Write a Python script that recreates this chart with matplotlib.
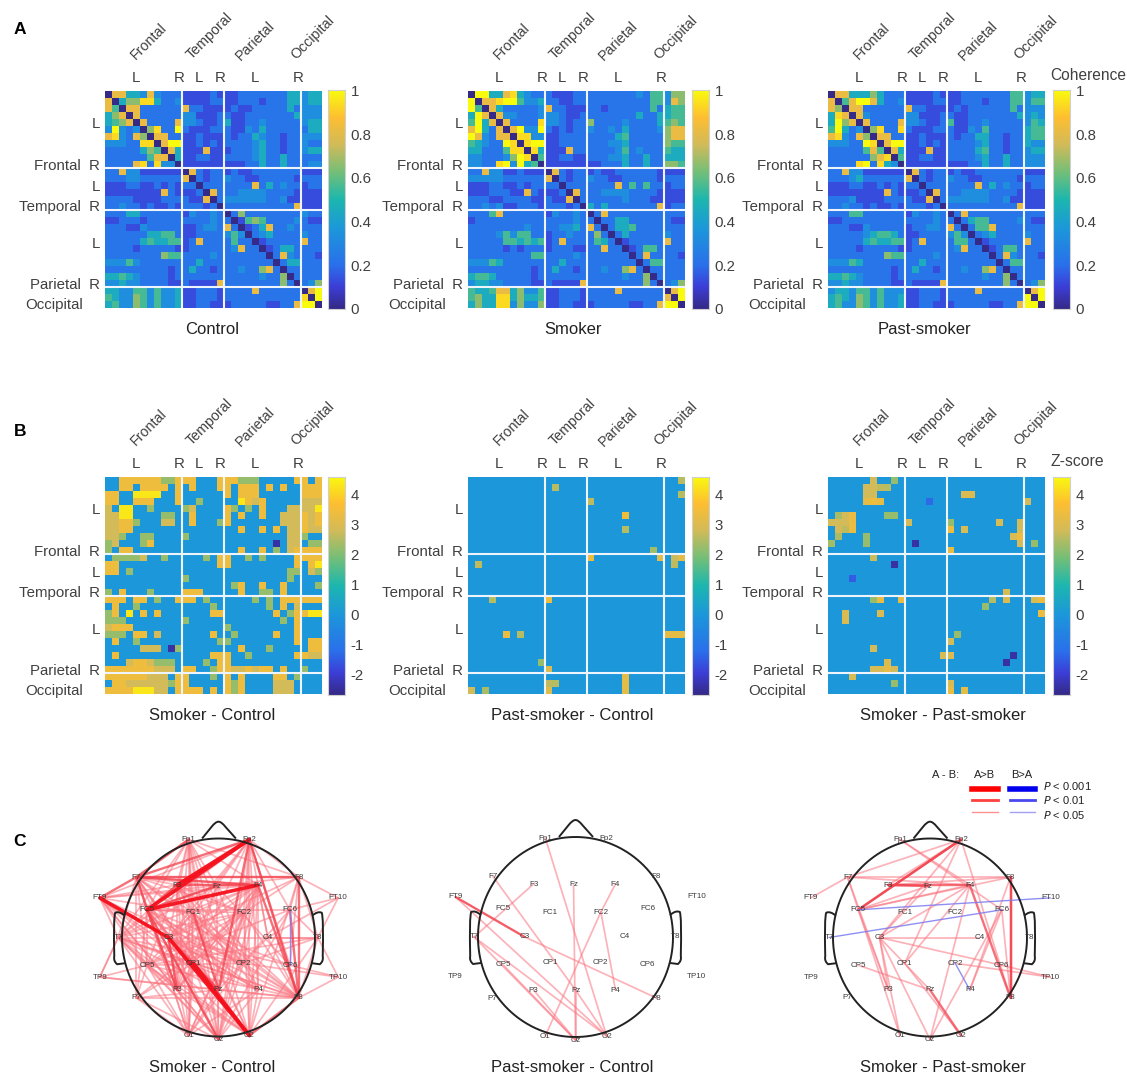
import numpy as np
import matplotlib
matplotlib.use("Agg")
from matplotlib import pyplot as plt
from matplotlib.colors import LinearSegmentedColormap
from matplotlib.path import Path
from matplotlib.patches import PathPatch

plt.rcParams['font.family'] = ['Liberation Sans', 'DejaVu Sans']

W, H = 1127, 1078
GREY = '#404040'

# coherence level of each cell (frontal | temporal | parietal | occipital), decoded by coh_levels
coh_levels = {'0': 0.0, '1': 0.08, '2': 0.13, '3': 0.22, '4': 0.33, '5': 0.45, '6': 0.56, '7': 0.66,
              '8': 0.82, '9': 0.93, 'a': 1.0}
coh_control = [
    "08855484333 222232 22333333355 455",
    "80577995334 222233 22333233355 455",
    "86088333333 833222 23223333353 444",
    "57808333333 442223 32233333335 444",
    "56780833338 443223 52233433333 455",
    "4a43407933a 322233 32243533333 355",
    "89438708833 223222 32335433233 444",
    "444339908aa 223232 33334533233 433",
    "33333576085 222822 23334533233 455",
    "33333368805 223322 33334533533 333",
    "33338939440 222222 22233533533 344",
    "33844222222 083233 23223333333 222",
    "33344333333 803233 43322333332 333",
    "22233223232 330333 33338353433 233",
    "22222222832 223083 33444433332 222",
    "33332222333 322803 44444433422 222",
    "33433232232 333230 33333333338 222",
    "33355333333 243343 03733333333 433",
    "22333233333 333343 30267633334 322",
    "33322433333 223443 83023583343 333",
    "33333355663 223333 46403453333 433",
    "33333565566 238333 36330233333 833",
    "33332333332 233333 34833023553 333",
    "33333333766 333343 33333303843 332",
    "44464333333 335333 33333330355 333",
    "33333333323 353323 33433783033 333",
    "55654333323 333333 33333433703 333",
    "44544333322 322228 33333333730 347",
    "55446646445 223332 33338333333 08a",
    "65447646445 223332 33333333333 90a",
    "56447646445 223322 23333322338 aa0",
]
coh_smoker = [
    "0aa55895433 322233 33333334366 477",
    "a0889aa6445 332233 33333333366 487",
    "a6085333334 833222 33233333363 566",
    "5a808443334 443223 33333335335 566",
    "6a580833339 443233 73333433335 676",
    "8a53808a44a 323233 43343533334 788",
    "a8438809944 223333 33335633333 788",
    "65433a909aa 223333 33344533333 766",
    "55333699095 222833 33334634333 655",
    "4433347a906 223322 33344533533 555",
    "44339a4a560 222222 22333533533 776",
    "33844223222 083233 23223333332 222",
    "44444333333 803233 43322333332 333",
    "22233223233 330333 33338363633 233",
    "22233322832 223083 33444433332 222",
    "33322333322 322803 33333433322 222",
    "33434223332 333230 53533333338 233",
    "33368333333 243343 03833333333 333",
    "23333333333 333343 30335533333 322",
    "33333333433 334453 83035563333 333",
    "33334646633 233433 37303533333 433",
    "33333665656 238333 36530233333 833",
    "33333232333 233322 33833023663 333",
    "33333333366 333343 33333303833 332",
    "44465333333 335333 33333330366 333",
    "33333333323 353323 33433783033 333",
    "56653333323 333333 33333433703 333",
    "45544333322 322228 33333333730 347",
    "65568857446 223332 33338333333 08a",
    "67559957556 223332 33333333333 80a",
    "57559947447 223322 23333322338 aa0",
]
coh_past = [
    "08855575333 222232 22333333366 455",
    "8068aa85334 222233 22333233366 466",
    "87088333333 833222 23233333363 444",
    "59808433333 442223 32233333335 454",
    "5a780833338 443223 62233433333 465",
    "6a534079339 322233 32243633333 566",
    "89438708833 223222 32335533233 566",
    "44433a908aa 223232 33334533233 544",
    "33333686085 222822 33335633233 455",
    "33333378906 223322 33334533533 444",
    "33339a39540 222222 22233533533 444",
    "33844222222 083233 23223333333 222",
    "33345333333 803233 43322333332 333",
    "22233223232 330333 33338353433 233",
    "22222222832 223083 33444433332 222",
    "33342222333 322803 44444433422 222",
    "33433232232 333230 33333333338 222",
    "33366333333 243343 03833333333 333",
    "22333333333 333343 30356633334 322",
    "33322433333 233443 83036683333 333",
    "33333456653 223333 46403453333 433",
    "33333565566 238333 36630233333 833",
    "33332333332 233333 34833023663 333",
    "33333333766 333343 33333303843 332",
    "44465333333 335333 33333330366 333",
    "33333333323 353323 33433783033 333",
    "55654333323 333333 33333433703 333",
    "44544333322 322228 33333333730 347",
    "45546646444 223332 33338333333 08a",
    "56547646445 223332 33333333333 a0a",
    "56447646445 223322 23333322338 aa0",
]

# z-score codes for the cells
z_codes = {'.': 0.0, '2': 2.2, 'g': 2.8, '3': 3.4, '4': 4.3, 'n': -2.4, 'm': -1.3}

z_smoker_control = [
    "..333333223 33...3 33222.....3 3.3",
    "..33.3333.3 .3...3 3.333.3.3.. 333",
    "33..4444..3 ...... 3.333...... 333",
    "33..333...3 ..2... ..43g3..... ggg",
    "g.44..2.... 2g.... 32.2.3...gg gg4",
    "gg44....22. .3.... 3.3..3..ggg 3g3",
    "gg332...gg. .3...2 3.......ggg 3g3",
    "gg33....... ...... ..3..3.3.gg 3gg",
    "gg2..22.... 2..... .........gg 2..",
    "2g...23.... ...... .......n.gg .22",
    "2.33....... ...... ..3..3.2.g3 333",
    ".2222g..2.. ...2.3 3..2.2....3 333",
    "33......... .....3 3.........3 .34",
    "33.2....... ...... .........22 .g2",
    "........... 2..... .........2. ...",
    "........... ...... .23..3..3.. ..2",
    "2.3...2.... 333... ..3..22.3.. ...",
    "333.33.2..3 33.2.. ....2.2.333 333",
    ".3..2...... ....2. ......2.3.g ...",
    "23.4.3.3... ....33 .......3.23 344",
    "222........ 2..... ........2.3 ...",
    "g333....... ...... 2.........3 ...",
    "222.33.g... ....3. .2.....3..3 ...",
    ".3..2...... .....2 2.........3 .33",
    ".....ggg.n2 ...... ..3...2.... .33",
    ".3......... ....33 3..2......3 3gg",
    "...g33g222. ...2.3 3.......... ...",
    "3333333ggg. 33..23 3gg3g33.3.. 2..",
    "333333ggg.3 3...2. 3.3....33.2 ...",
    ".33gggggg23 3..... 323....ggg. ...",
    "3333444gg.3 333.3. 323....ggg. ...",
]

# only the few non zero cells: (row, col, z)
z_past_control = [
    (0, 30, 2.5), (1, 12, 2.5), (2, 30, 2.5), (3, 17, 2.6), (5, 22, 3.4), (7, 22, 2.5),
    (10, 26, 2.3), (11, 17, 3.4), (11, 27, 3.1), (11, 29, 2.7), (11, 30, 3.1), (12, 29, 2.6),
    (12, 1, 2.6), (17, 3, 2.5), (17, 11, 3.4), (22, 5, 3.3), (22, 7, 2.5), (22, 28, 3.2),
    (22, 29, 3.2), (22, 30, 3.2), (26, 10, 2.2), (27, 11, 3.0), (28, 22, 3.2), (29, 22, 3.2),
    (30, 22, 3.2), (29, 11, 2.6), (29, 12, 2.5), (30, 11, 3.0), (30, 0, 2.8), (30, 2, 2.4),
]
z_smoker_past = [
    (0, 6, 2.8), (0, 9, 2.2), (1, 5, 2.8), (1, 6, 2.8), (1, 7, 2.6), (1, 8, 2.5), (2, 5, 2.8),
    (2, 6, 2.8), (2, 19, 3.0), (2, 20, 3.0), (3, 5, 3.2), (3, 6, 3.4), (3, 7, 3.2), (3, 14, -1.3),
    (3, 28, 2.8), (5, 1, 2.4), (5, 2, 2.8), (5, 3, 3.3), (5, 8, 2.2), (5, 9, 2.2), (6, 0, 2.8),
    (6, 1, 2.8), (6, 2, 2.8), (6, 3, 3.3), (6, 11, 2.8), (6, 17, 2.2), (6, 24, 2.9), (6, 27, 2.8),
    (7, 1, 2.8), (7, 2, 2.6), (7, 3, 3.3), (7, 17, 3.4), (7, 19, 2.9), (7, 27, 2.8), (8, 1, 2.4),
    (8, 5, 2.2), (8, 26, 2.9), (8, 27, 3.4), (9, 0, 2.3), (9, 5, 2.2), (9, 12, -2.4), (9, 27, 2.8),
    (9, 29, 2.2), (10, 17, 3.3), (11, 6, 2.7), (12, 9, -2.4), (14, 3, -1.5), (16, 25, 2.9),
    (17, 6, 2.2), (17, 7, 3.3), (17, 10, 3.3), (17, 23, 2.5), (17, 25, 3.0), (17, 29, 3.0),
    (17, 30, 3.3), (18, 22, 2.2), (19, 2, 3.0), (19, 7, 3.0), (19, 30, 3.3), (20, 2, 3.0),
    (22, 18, 2.2), (23, 17, 2.8), (24, 6, 2.8), (25, 16, 2.9), (25, 17, 3.0), (25, 26, -2.4),
    (26, 25, -2.4), (26, 8, 3.0), (27, 6, 2.9), (27, 7, 2.9), (27, 8, 3.2), (27, 9, 2.8),
    (28, 3, 2.9), (29, 9, 2.2), (29, 17, 3.0), (30, 17, 3.3), (30, 19, 3.2),
]

# electrode layout, unit circle = scalp
electrodes = {
    'Fp1': (-.31, .99), 'Fp2': (.32, .99), 'F7': (-.85, .61), 'F3': (-.43, .53), 'Fz': (-.02, .52),
    'F4': (.41, .53), 'F8': (.83, .61), 'FT9': (-1.23, .40), 'FC5': (-.74, .28), 'FC1': (-.26, .25),
    'FC2': (.26, .25), 'FC6': (.74, .28), 'FT10': (1.24, .40), 'T7': (-1.04, 0), 'C3': (-.52, 0),
    'C4': (.51, 0), 'T8': (1.03, 0), 'TP9': (-1.23, -.40), 'CP5': (-.74, -.28), 'CP1': (-.26, -.26),
    'CP2': (.26, -.26), 'CP6': (.74, -.28), 'TP10': (1.24, -.40), 'P7': (-.85, -.61), 'P3': (-.43, -.53),
    'Pz': (0, -.53), 'P4': (.41, -.53), 'P8': (.83, -.61), 'O1': (-.31, -.99), 'Oz': (0, -1.03),
    'O2': (.32, -.99),
}

# connections per head: hub -> partners
c1_light = {
    'Fp1': "F7 F3 Fz F4 F8 FC5 FC1 C3 CP1 T7 P3 Pz O1 Oz O2 CP2",
    'Fp2': "F3 Fz F8 FC6 FC2 FC1 C3 C4 CP1 CP2 CP6 P4 P8 O2 Oz T7 FT9",
    'F7': "F3 Fz F4 F8 FC1 FC2 C3 T7 CP5 CP1 CP2 P7 P3 Pz O1 O2 P8",
    'F3': "FC1 FC2 CP1 CP2 T7 P3 P8 O1 O2 CP5",
    'Fz': "FC5 F4 CP1 P3 P4 CP6 Oz T7",
    'F4': "FC1 FC2 C3 C4 CP1 CP2 CP5 P3 P4 Pz O1 Oz O2 T7 FT9",
    'F8': "FC2 FC6 C3 T8 CP6 O2",
    'FT9': "F3 FC1 T7 C3 CP5 CP1 CP2 P3 Pz P4 Oz O2 F8",
    'FT10': "FC6 T8 F8 C4",
    'FC5': "FC1 FC2 FC6 C3 CP1 CP2 CP5 CP6 P3 P7 Pz P4 O1 Oz O2 P8",
    'FC1': "C3 CP2 CP5 P3 P4 P8 O1 Oz O2",
    'FC2': "T7 C3 CP1 CP5 P3 Pz P7 P8 O1 Oz O2",
    'FC6': "T8 CP5 Pz Oz",
    'T7': "C3 CP1 CP2 CP5 P3 Pz P4 P8 O1 Oz O2 TP9",
    'C3': "CP2 CP6 P3 Pz P8 P4 O1 Oz O2 T8",
    'C4': "P8 CP2 T8",
    'T8': "CP2 CP5 P8 TP10 O2",
    'TP9': "CP5 Pz T7 P8",
    'TP10': "CP2 P8 CP6",
    'CP5': "P7 P3 O1 Oz O2 P8 CP2",
    'CP1': "P3 O1 Oz P8 P7",
    'CP2': "P8 Oz O1 P4",
    'P7': "Pz P8 O1 Oz",
    'P3': "Oz O2",
    'Pz': "Oz O1 P8",
    'P4': "O1 Oz O2",
}
c1_medium = ["Fp2-F7", "F4-F7", "F7-F8", "F3-F4", "FC6-P8", "F4-P8", "F8-P8", "Fp2-P8", "O2-P8", "FC1-Pz",
             "C3-P3", "FC5-P3", "F7-FC5", "FC5-Oz", "F7-Fp1", "FT9-F7", "Fp2-Pz", "C3-Pz", "FC5-F3", "FC5-Fz"]
c1_strong = ["FC5-Fp2", "FC5-F4", "F3-Fp2", "FT9-C3", "CP1-O2", "C3-O2"]
c1_blue = ["FC6-CP6"]

c2_light = ["F7-Pz", "F3-T7", "Fp1-O2", "Fz-Oz", "F4-FC2", "FC2-O1", "FC2-P4", "T7-O2", "T7-Oz", "CP5-Oz",
            "P3-Oz", "Pz-O2", "Pz-Oz", "C3-P8", "FT9-O2", "FT9-C3"]
c2_medium = ["FT9-C3"]

c3_light = ["Fp2-F7", "Fp2-F3", "F7-FT9", "F7-F4", "F7-F8", "F3-F8", "FC5-F8", "FC5-F4", "FC5-Fz", "C3-F4",
            "C3-Fz", "C3-Fp2", "C3-C4", "C3-P3", "C3-Oz", "C3-O1", "C3-CP6", "C3-Pz", "F7-O1", "F7-P3",
            "FC5-P3", "CP5-Pz", "CP1-F4", "CP1-O2", "Fp1-F4", "Fp1-FC6", "FC6-Oz", "FC6-P4", "Oz-F4",
            "FC6-P8", "CP2-TP10", "CP6-TP10", "Fp2-P8", "Fp2-CP1", "F8-P4"]
c3_medium = ["F3-F4", "F4-P8", "Pz-O2", "F3-Fz", "Fp2-FC5", "F8-P8", "Fp2-FC5", "F8-P8"]
c3_blue = ["FC5-FT10", "T7-FC6", "CP2-P4"]

panel_a_titles = ["Control", "Smoker", "Past-smoker"]
panel_bc_titles = ["Smoker - Control", "Past-smoker - Control", "Smoker - Past-smoker"]
coh_ticks = [0, 0.2, 0.4, 0.6, 0.8, 1]
z_ticks = [-2, -1, 0, 1, 2, 3, 4]

parula = LinearSegmentedColormap.from_list('parula_old', [
    (0.0, (53/255, 42/255, 135/255)), (0.1, (60/255, 62/255, 215/255)), (0.2, (42/255, 112/255, 235/255)),
    (0.37, (28/255, 152/255, 218/255)), (0.5, (28/255, 183/255, 175/255)), (0.625, (115/255, 191/255, 120/255)),
    (0.75, (209/255, 187/255, 89/255)), (0.875, (254/255, 190/255, 50/255)), (1.0, (249/255, 251/255, 14/255))])


def px_axes(x0, y0, x1, y1):
    return fig.add_axes([x0 / W, 1 - y1 / H, (x1 - x0) / W, (y1 - y0) / H])


def parse_coh(rows):
    return np.array([[coh_levels[c] for c in r.replace(" ", "")] for r in rows])


def parse_z(rows):
    return np.array([[z_codes[c] for c in r.replace(" ", "")] for r in rows])


def sparse_z(cells):
    m = np.zeros((31, 31))
    for r, c, z in cells:
        m[r, c] = z
    return m


def matrix_panel(mat, x0, y0, vmin, vmax, ticks, title, title_x, cb_x):
    ax = px_axes(x0, y0, x0 + 217, y0 + 217)
    ax.imshow(mat, cmap=parula, vmin=vmin, vmax=vmax, interpolation='nearest', aspect='auto')
    for b in [10.5, 16.5, 27.5]:
        ax.axvline(b, color='#eef4fb', lw=1.5)
        ax.axhline(b, color='#eef4fb', lw=1.5)
    ax.axis('off')

    cb = px_axes(cb_x, y0 - 0.5, cb_x + 17, y0 + 218)
    grad = np.linspace(vmax, vmin, 256).reshape(-1, 1)
    cb.imshow(grad, cmap=parula, vmin=vmin, vmax=vmax, aspect='auto', extent=[0, 1, vmin, vmax])
    cb.set_xticks([])
    cb.yaxis.tick_right()
    cb.set_yticks(ticks)
    cb.set_yticklabels([str(t) for t in ticks], fontsize=10.8, color=GREY)
    cb.tick_params(axis='y', length=0, pad=4)
    for s in cb.spines.values():
        s.set_color('#d0d0d0')
        s.set_linewidth(0.8)

    for name, dx, dy in [("Frontal", 44, -50), ("Temporal", 105, -55), ("Parietal", 150, -50), ("Occipital", 208, -53)]:
        over.text(x0 + dx, y0 + dy, name, rotation=45, ha='center', va='center', fontsize=10.3, color=GREY)
    for name, dx in [("L", 31), ("R", 74), ("L", 94), ("R", 115), ("L", 150), ("R", 193)]:
        over.text(x0 + dx, y0 - 13, name, ha='center', va='center', fontsize=10.8, color=GREY)
    for name, dy in [("L", 33), ("Frontal  R", 75), ("L", 96), ("Temporal  R", 116), ("L", 153), ("Parietal  R", 194)]:
        over.text(x0 - 5, y0 + dy, name, ha='right', va='center', fontsize=10.8, color=GREY)
    over.text(x0 - 22, y0 + 214, "Occipital", ha='right', va='center', fontsize=10.8, color=GREY)
    over.text(title_x, y0 + 239, title, ha='center', va='center', fontsize=12, color='#222222')


def edge_pairs(hubs):
    return [(a, b) for a, partners in hubs.items() for b in partners.split()]


def split_pairs(names):
    return [tuple(n.split('-')) for n in names]


def head_panel(cx, cy, rx, ry, title, title_x, light=(), medium=(), strong=(), blue=()):
    ax = px_axes(cx - 1.42 * rx, cy - 1.25 * ry, cx + 1.42 * rx, cy + 1.25 * ry)
    ax.set_xlim(-1.42, 1.42)
    ax.set_ylim(-1.25, 1.25)
    ax.axis('off')
    ax.patch.set_alpha(0)
    styles = [(light, '#fb7480', 1.25, 0.55), (medium, '#f2404c', 1.7, 0.75), (strong, '#f4101c', 2.6, 0.95),
              (blue, '#7c7cf0', 1.0, 0.85)]
    for pairs, col, lw, alpha in styles:
        for a, b in pairs:
            xa, ya = electrodes[a]
            xb, yb = electrodes[b]
            ax.plot([xa, xb], [ya, yb], color=col, lw=lw, alpha=alpha, solid_capstyle='round', zorder=2)
    t = np.linspace(0, 2 * np.pi, 300)
    ax.plot(np.cos(t), np.sin(t), color='#222222', lw=1.4, zorder=3)
    nose = Path([(-.17, 1.0), (-.07, 1.12), (-.03, 1.17), (0, 1.17), (.03, 1.17), (.07, 1.12), (.18, 1.0)],
                [Path.MOVETO, Path.LINETO, Path.CURVE3, Path.CURVE3, Path.CURVE3, Path.CURVE3, Path.LINETO])
    ax.add_patch(PathPatch(nose, fill=False, ec='#222222', lw=1.4, zorder=3))
    for sign in [-1, 1]:
        ear = Path([(sign * .97, .22), (sign * 1.03, .27), (sign * 1.07, .25), (sign * 1.09, .2), (sign * 1.08, -.19),
                    (sign * 1.09, -.24), (sign * 1.05, -.27), (sign * .97, -.26)],
                   [Path.MOVETO, Path.CURVE3, Path.CURVE3, Path.CURVE3, Path.LINETO, Path.CURVE3, Path.CURVE3, Path.LINETO])
        ax.add_patch(PathPatch(ear, fill=False, ec='#222222', lw=1.4, zorder=3))
    for name, (x, y) in electrodes.items():
        ax.text(x, y, name, ha='center', va='center', fontsize=5.8, color='#3a3a3a', zorder=4)
    over.text(title_x, 1068, title, ha='center', va='center', fontsize=12, color='#222222')


fig = plt.figure(figsize=(W / 100, H / 100), dpi=100)
over = fig.add_axes([0, 0, 1, 1])
over.set_xlim(0, W)
over.set_ylim(H, 0)
over.axis('off')

coh_mats = [parse_coh(coh_control), parse_coh(coh_smoker), parse_coh(coh_past)]
z_mats = [parse_z(z_smoker_control), sparse_z(z_past_control), sparse_z(z_smoker_past)]
xs = [105, 468, 828]
cbs = [328, 692, 1053]
a_title_x = [212, 573, 924]
bc_title_x = [212, 572, 943]

for i in range(3):
    matrix_panel(coh_mats[i], xs[i], 91, 0, 1, coh_ticks, panel_a_titles[i], a_title_x[i], cbs[i])
    matrix_panel(z_mats[i], xs[i], 477, -2.67, 4.6, z_ticks, panel_bc_titles[i], bc_title_x[i], cbs[i])

over.text(1088, 76, "Coherence", ha='center', va='center', fontsize=11.2, color=GREY)
over.text(1077, 462, "Z-score", ha='center', va='center', fontsize=11.3, color=GREY)

head_panel(218.5, 937.5, 96.5, 99, panel_bc_titles[0], bc_title_x[0], edge_pairs(c1_light), split_pairs(c1_medium),
           split_pairs(c1_strong), split_pairs(c1_blue))
head_panel(575.5, 937, 97.5, 100, panel_bc_titles[1], bc_title_x[1], split_pairs(c2_light), split_pairs(c2_medium))
head_panel(930, 937.5, 97, 99, panel_bc_titles[2], bc_title_x[2], split_pairs(c3_light), split_pairs(c3_medium),
           (), split_pairs(c3_blue))

for letter, y in [("A", 30), ("B", 431), ("C", 842)]:
    over.text(20, y, letter, ha='center', va='center', fontsize=12.5, fontweight='bold', color='black')

# significance key
over.text(946, 775, "A - B:", ha='center', va='center', fontsize=8, color='#222222')
over.text(985, 775, "A>B", ha='center', va='center', fontsize=8, color='#222222')
over.text(1022, 775, "B>A", ha='center', va='center', fontsize=8, color='#222222')
for y, lw, red, blue_col, label, ty in [(789, 4, '#ff0000', '#0000ee', "< 0.001", 786),
                                        (800, 2, '#ff4040', '#4848f0', "< 0.01", 800),
                                        (812, 1, '#ff9090', '#a0a0f5', "< 0.05", 815)]:
    over.plot([972, 998], [y, y], color=red, lw=lw)
    over.plot([1010, 1035], [y, y], color=blue_col, lw=lw)
    over.text(1043, ty, "$\\mathit{P}$ " + label, ha='left', va='center', fontsize=8, color='#222222')

plt.savefig("out.png", dpi=100)
